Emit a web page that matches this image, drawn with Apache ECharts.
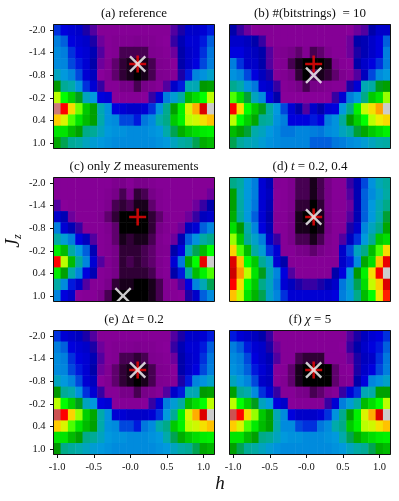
<!DOCTYPE html>
<html>
<head>
<meta charset="utf-8">
<style>
  html, body { margin: 0; padding: 0; background: #fff; }
  #chart { width: 399px; height: 501px; }
</style>
<script src="https://cdn.jsdelivr.net/npm/echarts@6/dist/echarts.min.js"></script>
</head>
<body>
<div id="chart"></div>
<script>
const hValues = ['-1.0','-0.9','-0.8','-0.7','-0.6','-0.5','-0.4','-0.3','-0.2','-0.1','-0.0','0.1','0.2','0.3','0.4','0.5','0.6','0.7','0.8','0.9','1.0','1.1'];
const jzValues = ['-2.0','-1.7','-1.4','-1.1','-0.8','-0.5','-0.2','0.1','0.4','0.7','1.0'];

// cell values, 0-100, one row per Jz
const panelA = [
  [22,20,19,18,14,12,9,9,9,9,9,9,9,9,9,9,12,14,18,18,19,21],
  [26,24,20,19,18,14,11,9,8,8,8,7,8,8,9,10,13,16,19,19,21,24],
  [28,26,22,20,19,16,12,9,8,3,3,3,3,7,8,9,11,15,18,19,22,25],
  [28,27,23,21,19,15,11,8,4,2,1,1,1,3,7,8,10,15,18,20,23,26],
  [33,30,27,23,19,17,10,8,4,2,1,0,1,3,7,8,9,14,21,27,29,32],
  [45,38,35,29,22,19,13,9,9,5,5,3,5,7,9,12,18,21,34,34,45,46],
  [65,60,53,44,33,30,20,19,10,9,9,9,10,13,19,26,31,36,50,55,60,65],
  [98,85,73,63,52,46,34,29,20,19,18,18,19,22,29,39,46,58,68,78,90,100],
  [75,68,62,56,50,46,35,29,28,23,23,21,25,28,35,40,52,58,65,67,72,76],
  [56,56,50,46,40,38,33,30,29,29,28,28,28,29,30,35,42,48,52,55,57,58],
  [47,42,38,36,33,31,30,29,28,28,28,28,28,28,29,30,33,36,38,42,48,50]
];
const panelB = [
  [15,13,11,10,9,9,9,9,9,9,9,9,9,9,9,9,10,11,12,15,18,18],
  [18,18,17,15,13,9,9,9,9,9,9,9,9,9,9,9,11,15,16,18,20,24],
  [20,20,18,17,15,12,8,7,5,4,8,3,4,7,9,9,11,14,16,18,20,26],
  [26,22,18,18,15,12,9,8,3,1,0,0,0,1,5,9,10,15,18,20,22,26],
  [29,27,23,20,17,14,9,8,5,2,0,3,1,2,4,7,9,12,17,23,28,30],
  [39,35,29,25,19,18,13,9,8,5,3,5,6,8,9,9,14,19,34,36,44,46],
  [62,55,43,33,28,20,15,10,10,10,10,10,10,10,13,19,26,30,40,52,56,64],
  [85,72,60,52,44,36,30,23,19,15,12,18,15,19,20,30,40,58,66,72,79,100],
  [65,60,53,47,38,36,29,26,20,20,20,21,20,26,29,37,45,53,60,65,70,73],
  [50,46,43,35,33,30,28,25,25,27,27,26,25,28,29,33,36,43,47,52,55,58],
  [42,37,34,33,31,29,28,27,27,27,27,24,24,24,25,26,28,29,31,33,35,36]
];
const panelC = [
  [9,9,9,9,9,9,9,9,7,6,9,6,6,8,9,9,9,9,9,9,9,9],
  [9,9,9,9,9,9,9,8,5,3,6,2,3,5,8,9,9,9,9,9,9,11],
  [12,10,9,9,9,9,9,7,3,2,3,1,1,4,8,9,9,9,9,11,13,15],
  [18,16,11,9,9,9,8,4,2,0,0,0,0,2,4,8,9,9,11,13,17,18],
  [26,19,16,13,9,9,9,7,4,0,0,0,0,2,5,8,9,11,17,19,24,27],
  [36,31,26,20,17,12,9,8,4,1,2,1,1,3,7,9,11,16,24,29,36,40],
  [57,50,36,30,24,16,9,8,5,2,2,2,3,4,7,8,15,20,34,42,50,60],
  [85,65,50,37,27,19,12,8,5,2,3,2,3,4,7,9,19,25,47,60,88,100],
  [57,46,35,27,20,16,9,8,5,2,2,2,2,3,7,9,15,21,36,50,58,62],
  [36,28,21,18,12,9,9,6,2,1,1,0,0,1,3,8,9,12,20,27,34,42],
  [27,20,18,10,9,9,6,3,0,0,0,0,0,1,3,8,9,10,14,18,24,28]
];
const panelD = [
  [40,36,30,26,19,16,9,9,7,3,3,1,3,5,9,9,13,16,23,29,34,37],
  [46,35,30,26,19,17,10,9,7,3,3,1,3,5,9,9,12,16,24,28,32,36],
  [46,36,30,25,19,16,10,9,7,2,2,0,2,6,9,9,11,16,24,30,34,40],
  [48,37,30,24,19,15,9,9,6,1,0,0,1,5,9,9,12,16,24,30,35,43],
  [55,45,35,27,20,16,10,9,6,1,1,0,1,5,9,9,14,18,27,33,40,47],
  [64,52,38,32,26,18,13,9,6,3,3,1,3,7,9,12,17,22,30,38,52,55],
  [74,62,50,36,31,22,19,9,9,6,5,4,5,8,9,18,23,33,40,50,62,73],
  [90,76,60,52,38,32,19,15,9,9,9,9,9,9,9,18,21,28,47,55,76,88],
  [95,80,65,56,44,34,27,20,12,9,9,9,9,9,15,20,30,45,58,72,86,100],
  [85,72,60,52,40,33,25,19,17,14,13,13,14,16,18,25,32,42,55,66,75,90],
  [76,66,56,49,42,32,27,22,19,19,19,19,19,19,20,26,30,40,50,60,71,84]
];
const panelE = [
  [22,19,18,17,14,12,9,9,9,9,9,9,9,9,9,9,12,14,18,18,19,21],
  [26,24,20,19,18,14,11,9,8,8,8,7,8,8,9,10,13,16,19,19,21,24],
  [28,26,22,20,19,16,12,9,8,3,3,2,3,7,8,9,11,15,18,19,22,25],
  [28,27,23,21,19,15,11,8,4,2,1,1,1,3,7,8,10,15,18,20,23,26],
  [33,30,27,23,19,17,10,8,4,2,1,0,1,3,7,8,9,14,21,27,29,32],
  [45,38,35,29,22,19,13,9,9,5,5,3,5,7,9,12,18,21,34,34,45,46],
  [65,60,53,44,33,30,20,19,10,9,9,9,10,13,19,26,31,36,50,55,60,65],
  [97,85,74,64,53,47,35,29,19,19,18,18,18,19,22,30,38,58,68,78,90,100],
  [75,68,62,56,50,46,35,29,28,23,23,21,25,28,35,40,52,58,65,67,72,76],
  [56,56,50,46,40,38,33,30,29,29,28,28,28,29,30,35,42,48,52,55,57,58],
  [45,40,37,35,33,31,30,29,28,28,28,28,28,28,29,30,33,36,38,42,47,49]
];
const panelF = [
  [21,19,18,17,15,13,9,9,9,9,9,9,9,9,9,9,12,14,17,19,20,22],
  [26,24,21,19,18,14,11,9,9,9,9,9,9,9,9,10,13,15,18,20,21,24],
  [28,26,23,20,18,16,12,9,9,3,2,2,2,9,9,9,11,14,17,18,22,25],
  [29,27,24,21,19,17,10,9,4,1,0,0,0,0,4,9,10,14,18,20,23,26],
  [33,30,27,23,18,17,10,8,4,1,0,0,0,0,4,8,9,15,20,27,29,32],
  [46,38,35,28,22,19,13,9,9,6,5,3,4,7,9,13,19,22,34,35,46,46],
  [65,60,53,44,33,30,20,18,10,9,9,9,9,13,19,26,31,36,50,55,60,65],
  [97,85,73,64,52,46,34,28,20,18,18,18,19,22,29,39,46,58,68,78,90,100],
  [75,68,62,57,50,46,35,28,28,23,22,22,25,28,35,40,52,58,65,67,72,76],
  [56,56,50,46,40,38,33,30,29,29,28,28,28,29,30,35,42,48,52,55,57,58],
  [46,42,38,36,33,31,29,28,28,28,28,28,28,28,29,30,33,36,38,42,48,50]
];

// red + and white x positions [h, Jz]
const redMarks = [['0.1','-1.1'],['0.1','-1.1'],['0.1','-1.1'],['0.1','-1.1'],['0.1','-1.1'],['0.1','-1.1']];
const whiteMarks = [['0.1','-1.1'],['0.1','-0.8'],['-0.1','1.0'],['0.1','-1.1'],['0.1','-1.1'],['0.1','-1.1']];

const spectral = ['#000000','#770088','#880099','#0000aa','#0000dd','#0077dd','#0099dd','#00aaaa','#00aa88','#009900','#00bb00','#00dd00','#00ff00','#bbff00','#eeee00','#ffcc00','#ff9900','#ff0000','#dd0000','#cc0000','#cccccc'];

const plusPath = 'path://M8.5,0H11.5V8.5H20V11.5H11.5V20H8.5V11.5H0V8.5H8.5Z';
const crossPath = 'path://M2,0L10,8L18,0L20,2L12,10L20,18L18,20L10,12L2,20L0,18L8,10L0,2Z';

const panels = [panelA, panelB, panelC, panelD, panelE, panelF];
const titles = ['(a) reference', '(b) #(bitstrings)  = 10', '(c) only {i|Z} measurements', '(d) {i|t} = 0.2, 0.4', '(e) Δ{i|t} = 0.2', '(f) {i|χ} = 5'];
const lefts = [53.5, 229.5];
const tops = [24.5, 177.5, 330.5];
const serif = '"Liberation Serif", serif';

const grid = [], xAxis = [], yAxis = [], series = [], title = [];
panels.forEach((rows, p) => {
  const col = p % 2, row = Math.floor(p / 2);
  grid.push({
    left: lefts[col], top: tops[row], width: 161, height: 124,
    show: true, borderColor: '#111', borderWidth: 1, backgroundColor: 'transparent', z: 5
  });
  xAxis.push({
    type: 'category', gridIndex: p, data: hValues,
    axisLine: { show: false },
    axisTick: { show: row === 2, length: 3.5, interval: 4, alignWithLabel: true, lineStyle: { color: '#111' } },
    axisLabel: { show: row === 2, interval: 4, margin: 7.5, color: '#111', fontFamily: serif, fontSize: 10.5 },
    splitLine: { show: false }, splitArea: { show: false }
  });
  yAxis.push({
    type: 'category', gridIndex: p, data: jzValues, inverse: true,
    axisLine: { show: false },
    axisTick: { show: col === 0, length: 3.5, interval: 1, alignWithLabel: true, lineStyle: { color: '#111' } },
    axisLabel: { show: col === 0, interval: 1, margin: 8, color: '#111', fontFamily: serif, fontSize: 10.5 },
    splitLine: { show: false }, splitArea: { show: false }
  });
  const cells = [];
  rows.forEach((vals, j) => vals.forEach((v, i) => cells.push([i, j, v])));
  series.push({
    type: 'heatmap', xAxisIndex: p, yAxisIndex: p, data: cells, silent: true, progressive: 0
  });
  series.push({
    type: 'scatter', xAxisIndex: p, yAxisIndex: p, data: [redMarks[p]], silent: true, clip: true, z: 3,
    symbol: plusPath, symbolSize: 17, itemStyle: { color: '#f60808' }
  });
  series.push({
    type: 'scatter', xAxisIndex: p, yAxisIndex: p, data: [whiteMarks[p]], silent: true, clip: true, z: 4,
    symbol: crossPath, symbolSize: 17, itemStyle: { color: '#fff' }
  });
  title.push({
    text: titles[p],
    left: lefts[col] + 80.5, top: tops[row] - 17.5, textAlign: 'center',
    padding: 0,
    textStyle: {
      color: '#111', fontFamily: serif, fontSize: 13, fontWeight: 'normal',
      rich: { i: { fontFamily: serif, fontStyle: 'italic', fontSize: 13, color: '#111' } }
    }
  });
});

// h label sits between the two bottom panels
title.push({
  text: 'h', left: 220, top: 474, textAlign: 'center', padding: 0,
  textStyle: { color: '#111', fontFamily: serif, fontStyle: 'italic', fontSize: 19, fontWeight: 'normal' }
});

const chart = echarts.init(document.getElementById('chart'));
chart.setOption({
  animation: false,
  backgroundColor: '#fff',
  title, grid, xAxis, yAxis, series,
  visualMap: {
    show: false, min: 0, max: 100, calculable: false,
    seriesIndex: series.map((s, i) => i).filter(i => i % 3 === 0),
    inRange: { color: spectral }
  },
  graphic: [{
    type: 'text', x: 14, y: 241, rotation: Math.PI / 2,
    style: {
      text: '{j|J}{z|z}', align: 'center', verticalAlign: 'middle',
      rich: {
        j: { fontFamily: serif, fontStyle: 'italic', fontSize: 20, fill: '#111' },
        z: { fontFamily: serif, fontStyle: 'italic', fontSize: 12, fill: '#111', verticalAlign: 'bottom', padding: [6, 0, 0, 0] }
      }
    }
  }]
});
</script>
</body>
</html>
